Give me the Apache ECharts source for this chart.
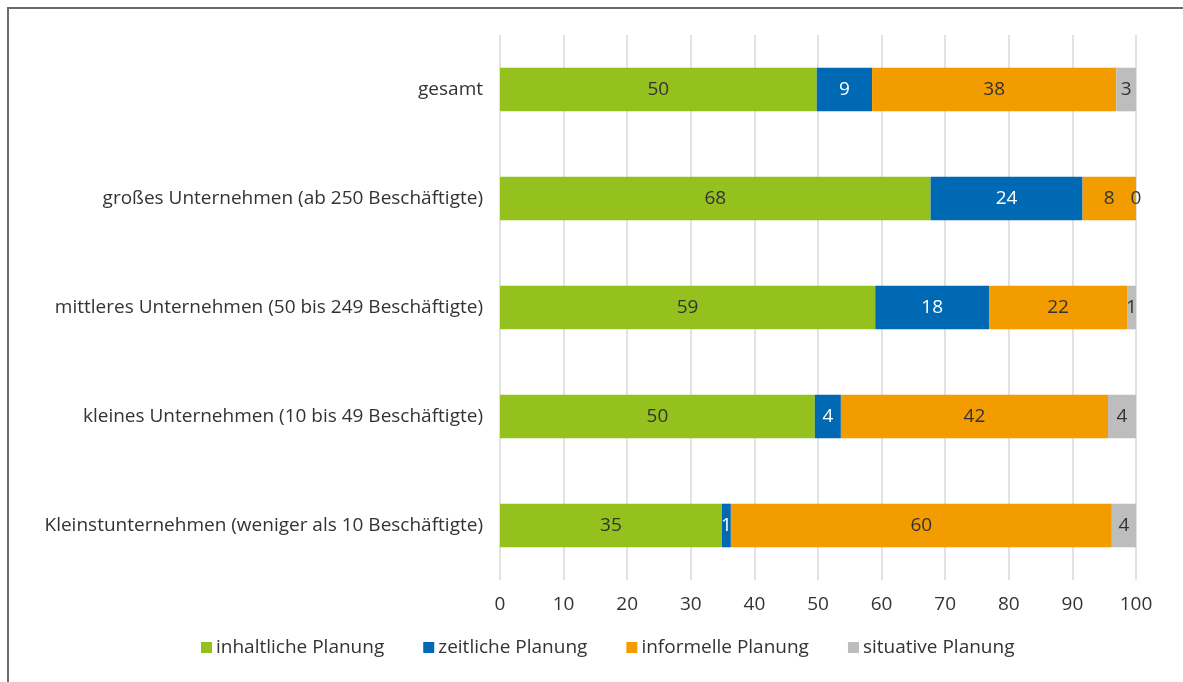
<!DOCTYPE html>
<html>
<head>
<meta charset="utf-8">
<script src="https://cdn.jsdelivr.net/npm/echarts@6/dist/echarts.min.js"></script>
<style>
  html, body { margin: 0; padding: 0; background: #fff; }
  #frame { position: absolute; left: 7px; top: 7px; right: 0; bottom: 0; border-top: 2px solid #6b6b6b; border-left: 2px solid #6b6b6b; }
  #chart { position: absolute; left: 0; top: 0; width: 1183px; height: 682px; }
</style>
</head>
<body>
<div id="frame"></div>
<div id="chart"></div>
<script>
// categories listed bottom to top (category axis on y starts at the bottom)
const categories = [
  'Kleinstunternehmen (weniger als 10 Beschäftigte)',
  'kleines Unternehmen (10 bis 49 Beschäftigte)',
  'mittleres Unternehmen (50 bis 249 Beschäftigte)',
  'großes Unternehmen (ab 250 Beschäftigte)',
  'gesamt'
];
const seriesNames = ['inhaltliche Planung', 'zeitliche Planung', 'informelle Planung', 'situative Planung'];
const inhaltlich = [34.9, 49.5, 59.0, 67.7, 49.8];
const zeitlich = [1.4, 4.1, 17.9, 23.9, 8.7];
const informell = [59.9, 42.0, 21.7, 8.4, 38.4];
const situativ = [3.8, 4.4, 1.4, 0, 3.1];
const xTicks = [0, 10, 20, 30, 40, 50, 60, 70, 80, 90, 100];

const colors = ['#95c11f', '#0069b4', '#f39c00', '#bdbdbd'];
const labelColors = ['#333333', '#ffffff', '#333333', '#333333'];
const values = [inhaltlich, zeitlich, informell, situativ];
const font = '"Open Sans", "Noto Sans", sans-serif';

const chart = echarts.init(document.getElementById('chart'));
chart.setOption({
  animation: false,
  color: colors,
  textStyle: { fontFamily: font },
  grid: { left: 500, right: 47, top: 35, bottom: 102, containLabel: false },
  legend: {
    data: seriesNames,
    left: 196,
    top: 633,
    icon: 'rect',
    itemWidth: 11,
    itemHeight: 11,
    itemGap: 39,
    textStyle: { color: '#333', fontSize: 19, fontFamily: font, padding: [0, 0, 0, -1] }
  },
  xAxis: {
    type: 'value',
    min: xTicks[0],
    max: xTicks[xTicks.length - 1],
    interval: 10,
    axisLine: { show: false },
    axisTick: { show: false },
    axisLabel: { color: '#333', fontSize: 19, fontFamily: font, margin: 15 },
    splitLine: { lineStyle: { color: '#d9d9d9', width: 1.5 } }
  },
  yAxis: {
    type: 'category',
    data: categories,
    axisLine: { show: false },
    axisTick: { show: false },
    axisLabel: { color: '#333', fontSize: 19, fontFamily: font, margin: 17 }
  },
  series: seriesNames.map((name, i) => ({
    name,
    type: 'bar',
    stack: 'total',
    barCategoryGap: '60%',
    data: values[i],
    itemStyle: { color: colors[i] },
    label: {
      show: true,
      position: 'inside',
      color: labelColors[i],
      fontSize: 19,
      fontFamily: font,
      formatter: (p) => String(Math.round(p.value))
    }
  }))
});
</script>
</body>
</html>
